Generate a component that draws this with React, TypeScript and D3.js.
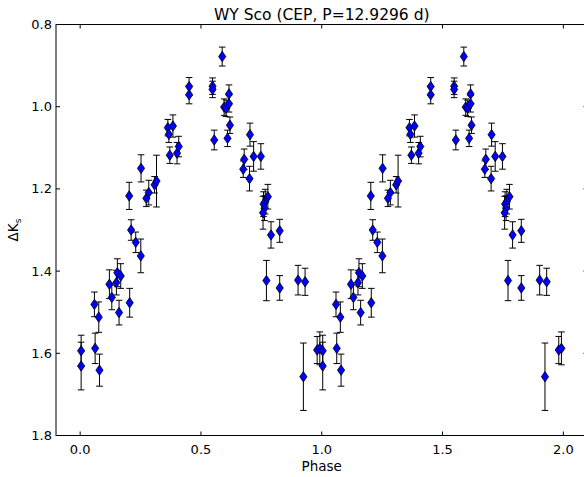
import React from "react";
import * as d3 from "d3";

const phases = [
  0.004, 0.004, 0.059, 0.062, 0.077, 0.080, 0.121, 0.131, 0.150, 0.154,
  0.161, 0.168, 0.205, 0.203, 0.211, 0.230, 0.251, 0.252, 0.274, 0.284,
  0.308, 0.316, 0.363, 0.367, 0.384, 0.371, 0.401, 0.408, 0.451, 0.451,
  0.548, 0.548, 0.555, 0.588, 0.596, 0.604, 0.616, 0.616, 0.620, 0.610,
  0.703, 0.679, 0.675, 0.718, 0.748, 0.701, 0.777, 0.766, 0.759, 0.763,
  0.757, 0.790, 0.826, 0.771, 0.826, 0.902, 0.931, 0.924, 0.981, 0.992,
];
const deltaK = [
  1.594, 1.631, 1.481, 1.588, 1.512, 1.641, 1.432, 1.464, 1.428, 1.404,
  1.501, 1.412, 1.477, 1.217, 1.300, 1.330, 1.363, 1.150, 1.223, 1.209,
  1.190, 1.181, 1.051, 1.067, 1.047, 1.118, 1.113, 1.097, 0.951, 0.971,
  0.950, 0.958, 1.081, 0.878, 1.001, 1.004, 0.969, 0.993, 1.045, 1.077,
  1.068, 1.128, 1.152, 1.121, 1.121, 1.175, 1.219, 1.231, 1.237, 1.247,
  1.258, 1.312, 1.302, 1.423, 1.441, 1.422, 1.426, 1.657, 1.592, 1.588,
];
const errors = [
  0.038, 0.058, 0.030, 0.037, 0.037, 0.039, 0.035, 0.030, 0.030, 0.034,
  0.030, 0.030, 0.035, 0.033, 0.025, 0.025, 0.041, 0.033, 0.020, 0.030,
  0.020, 0.063, 0.020, 0.020, 0.027, 0.020, 0.026, 0.025, 0.022, 0.022,
  0.020, 0.020, 0.024, 0.023, 0.020, 0.020, 0.022, 0.020, 0.020, 0.020,
  0.028, 0.025, 0.020, 0.036, 0.031, 0.030, 0.030, 0.030, 0.030, 0.030,
  0.040, 0.032, 0.028, 0.049, 0.030, 0.036, 0.033, 0.082, 0.033, 0.040,
];
const xTicks = [0.0, 0.5, 1.0, 1.5, 2.0];
const yTicks = [0.8, 1.0, 1.2, 1.4, 1.6, 1.8];
const title = "WY Sco (CEP, P=12.9296 d)";
const xLabel = "Phase";

const W = 584;
const H = 477;
const left = 56;
const right = 587.5;
const top = 24.5;
const bottom = 435.5;

export default function App() {
  const x = d3.scaleLinear().domain([-0.1, 2.1]).range([left, right]);
  const y = d3.scaleLinear().domain([0.8, 1.8]).range([top, bottom]);
  const pts = [0, 1].flatMap((k) =>
    phases.map((p, i) => ({ p: p + k, v: deltaK[i], e: errors[i] }))
  );
  const font = "DejaVu Sans, sans-serif";
  const tl = 4;
  const cap = 3.3;
  const mw = 3.6;
  const mh = 5.2;
  return (
    <svg
      width={W}
      height={H}
      style={{ position: "absolute", left: 0, top: 0 }}
      fontFamily={font}
    >
      <rect x={0} y={0} width={W} height={H} fill="#fff" />
      <defs>
        <clipPath id="plot">
          <rect x={left} y={top} width={right - left} height={bottom - top} />
        </clipPath>
      </defs>
      <g clipPath="url(#plot)">
        {pts.map((d, i) => (
          <g key={"e" + i} stroke="#000" strokeWidth={1} fill="none">
            <line x1={x(d.p)} x2={x(d.p)} y1={y(d.v - d.e)} y2={y(d.v + d.e)} />
            <line x1={x(d.p) - cap} x2={x(d.p) + cap} y1={y(d.v - d.e)} y2={y(d.v - d.e)} />
            <line x1={x(d.p) - cap} x2={x(d.p) + cap} y1={y(d.v + d.e)} y2={y(d.v + d.e)} />
          </g>
        ))}
        {pts.map((d, i) => {
          const cx = x(d.p);
          const cy = y(d.v);
          return (
            <path
              key={"m" + i}
              d={`M${cx},${cy - mh}L${cx + mw},${cy}L${cx},${cy + mh}L${cx - mw},${cy}Z`}
              fill="#0000ff"
              stroke="#000"
              strokeWidth={0.8}
            />
          );
        })}
      </g>
      <g stroke="#000" strokeWidth={1} fill="none">
        <rect x={left} y={top} width={right - left} height={bottom - top} />
        {xTicks.map((t) => (
          <g key={"xt" + t}>
            <line x1={x(t)} x2={x(t)} y1={bottom} y2={bottom - tl} />
            <line x1={x(t)} x2={x(t)} y1={top} y2={top + tl} />
          </g>
        ))}
        {yTicks.map((t) => (
          <g key={"yt" + t}>
            <line x1={left} x2={left + tl} y1={y(t)} y2={y(t)} />
            <line x1={right} x2={right - tl} y1={y(t)} y2={y(t)} />
          </g>
        ))}
      </g>
      <g fontSize={13} fill="#000">
        {xTicks.map((t) => (
          <text key={"xl" + t} x={x(t)} y={bottom + 18} textAnchor="middle">
            {d3.format(".1f")(t)}
          </text>
        ))}
        {yTicks.map((t) => (
          <text key={"yl" + t} x={left - 4} y={y(t) + 4.5} textAnchor="end">
            {d3.format(".1f")(t)}
          </text>
        ))}
      </g>
      <text x={(left + right) / 2} y={20} textAnchor="middle" fontSize={15.5}>
        {title}
      </text>
      <text x={(left + right) / 2} y={471} textAnchor="middle" fontSize={13.5}>
        {xLabel}
      </text>
      <text
        transform={`translate(18, ${(top + bottom) / 2}) rotate(-90)`}
        textAnchor="middle"
        fontSize={13.5}
      >
        ΔK
        <tspan fontSize={9} dy={3}>s</tspan>
      </text>
    </svg>
  );
}
